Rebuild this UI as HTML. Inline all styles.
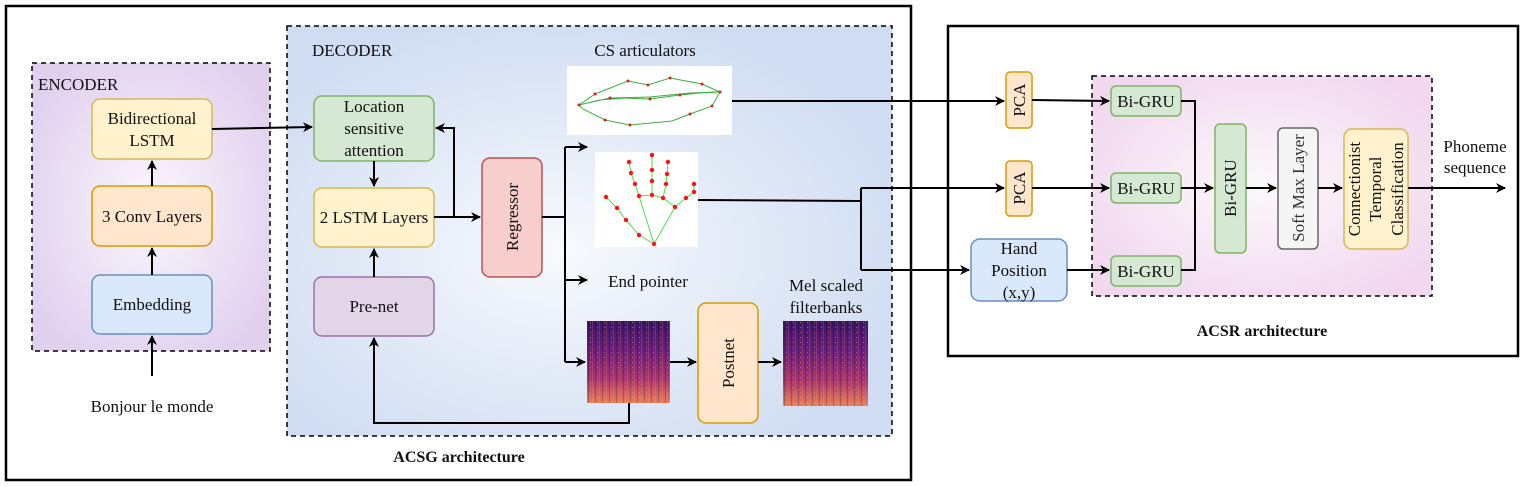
<!DOCTYPE html>
<html><head><meta charset="utf-8"><style>
body{margin:0;background:#fff;}
svg{display:block;}
text{font-family:"Liberation Serif","DejaVu Serif",serif;font-size:17px;fill:#111;}
.b{font-weight:bold;font-size:16px;}
</style></head><body>
<svg width="1525" height="487" viewBox="0 0 1525 487" xmlns="http://www.w3.org/2000/svg">
<defs>
<radialGradient id="gp" cx="50%" cy="50%" r="60%"><stop offset="0" stop-color="#fbf7fd"/><stop offset="1" stop-color="#e0d0ee"/></radialGradient>
<radialGradient id="gb" cx="45%" cy="55%" r="60%"><stop offset="0" stop-color="#f8fafe"/><stop offset="1" stop-color="#cfdcf1"/></radialGradient>
<radialGradient id="gk" cx="50%" cy="50%" r="60%"><stop offset="0" stop-color="#fdf8fc"/><stop offset="1" stop-color="#f1d8ef"/></radialGradient>
<linearGradient id="sp" x1="0" y1="0" x2="0" y2="1"><stop offset="0" stop-color="#3a1465"/><stop offset="0.35" stop-color="#6a1f7a"/><stop offset="0.7" stop-color="#a8346f"/><stop offset="1" stop-color="#e8805a"/></linearGradient>
<pattern id="st" width="7" height="5" patternUnits="userSpaceOnUse"><rect width="1" height="5" fill="#000" opacity="0.2"/><rect x="4" width="1" height="5" fill="#ff9a70" opacity="0.2"/><rect x="2" y="2" width="1" height="1" fill="#ffb070" opacity="0.5"/></pattern>
<marker id="a" markerWidth="10" markerHeight="10" refX="9" refY="5" orient="auto" markerUnits="userSpaceOnUse"><path d="M0,0 L10,5 L0,10 L3,5 Z" fill="#000"/></marker>
</defs>
<rect x="6" y="6" width="905" height="474" fill="none" stroke="#000" stroke-width="2.5"/>
<rect x="32" y="63" width="238" height="288" fill="url(#gp)" stroke="#000" stroke-width="1.5" stroke-dasharray="5,4"/>
<text x="38" y="90">ENCODER</text>
<rect x="287" y="26" width="605" height="410" fill="url(#gb)" stroke="#000" stroke-width="1.5" stroke-dasharray="5,4"/>
<text x="312" y="56">DECODER</text>
<rect x="92" y="99" width="120" height="60" rx="8" fill="#fff2cc" stroke="#d6b656" stroke-width="1.5"/>
<text x="152" y="124" text-anchor="middle">Bidirectional</text><text x="152" y="146" text-anchor="middle">LSTM</text>
<rect x="92" y="186" width="120" height="60" rx="8" fill="#ffe6cc" stroke="#d79b00" stroke-width="1.5"/>
<text x="152" y="222" text-anchor="middle">3 Conv Layers</text>
<rect x="92" y="275" width="120" height="59" rx="8" fill="#dae8fc" stroke="#6c8ebf" stroke-width="1.5"/>
<text x="152" y="310" text-anchor="middle">Embedding</text>
<g stroke="#000" stroke-width="2" fill="none">
<line x1="152" y1="376" x2="152" y2="336" marker-end="url(#a)"/>
<line x1="152" y1="275" x2="152" y2="248" marker-end="url(#a)"/>
<line x1="152" y1="186" x2="152" y2="161" marker-end="url(#a)"/>
<line x1="212" y1="129" x2="312" y2="127" marker-end="url(#a)"/>
</g>
<text x="152" y="412" text-anchor="middle">Bonjour le monde</text>
<rect x="314" y="96" width="120" height="65" rx="8" fill="#d5e8d4" stroke="#82b366" stroke-width="1.5"/>
<text x="374" y="112" text-anchor="middle">Location</text><text x="374" y="134" text-anchor="middle">sensitive</text><text x="374" y="156" text-anchor="middle">attention</text>
<rect x="314" y="188" width="120" height="59" rx="8" fill="#fff2cc" stroke="#d6b656" stroke-width="1.5"/>
<text x="374" y="223" text-anchor="middle">2 LSTM Layers</text>
<rect x="314" y="277" width="120" height="59" rx="8" fill="#e1d5e7" stroke="#9673a6" stroke-width="1.5"/>
<text x="374" y="312" text-anchor="middle">Pre-net</text>
<rect x="482" y="158" width="60" height="119" rx="8" fill="#f8cecc" stroke="#b85450" stroke-width="1.5"/>
<text transform="translate(518,217) rotate(-90)" text-anchor="middle">Regressor</text>
<rect x="698" y="303" width="60" height="120" rx="8" fill="#ffe6cc" stroke="#d79b00" stroke-width="1.5"/>
<text transform="translate(734,363) rotate(-90)" text-anchor="middle">Postnet</text>
<rect x="567" y="66" width="165" height="69" fill="#fff"/>
<g fill="none" stroke="#3cb043" stroke-width="1">
<path d="M579,105 L595,94 L628,81 L648,85 L670,78 L702,84 L720,92 L712,106 L690,114 L672,121 L630,125 L605,120 L583,109 Z"/>
<path d="M579,105 L600,100 L625,98 L650,99 L680,95 L700,93 L720,92 M583,104 L610,98 L650,97 L690,93 L718,92"/>
</g>
<g fill="#e02020">
<circle cx="579" cy="105" r="1.5"/><circle cx="595" cy="94" r="1.5"/><circle cx="628" cy="81" r="1.5"/><circle cx="648" cy="85" r="1.5"/><circle cx="670" cy="78" r="1.5"/><circle cx="702" cy="84" r="1.5"/><circle cx="720" cy="92" r="1.5"/><circle cx="712" cy="106" r="1.5"/><circle cx="690" cy="114" r="1.5"/><circle cx="630" cy="125" r="1.5"/><circle cx="605" cy="120" r="1.5"/><circle cx="650" cy="99" r="1.5"/><circle cx="610" cy="98" r="1.5"/><circle cx="680" cy="95" r="1.5"/>
</g>
<rect x="595" y="152" width="103" height="95" fill="#fff"/>
<g fill="none" stroke="#4ce04c" stroke-width="1">
<path d="M654,244 L639,235 L626,220 L617,208 L606,197 M654,244 L639,196 L635,184 L631,173 L629,162 M654,244 L675,207 L686,198 L694,192 L694,184 M639,196 L652,195 L663,198 L675,207 M652,195 L652,181 L652,170 L652,155 M663,198 L666,184 L667,174 L668,162"/>
</g>
<g fill="#ff1010">
<circle cx="654" cy="244" r="2.2"/><circle cx="639" cy="235" r="2.2"/><circle cx="626" cy="220" r="2.2"/><circle cx="617" cy="208" r="2.2"/><circle cx="606" cy="197" r="2.2"/><circle cx="639" cy="196" r="2.2"/><circle cx="635" cy="184" r="2.2"/><circle cx="631" cy="173" r="2.2"/><circle cx="629" cy="162" r="2.2"/><circle cx="675" cy="207" r="2.2"/><circle cx="686" cy="198" r="2.2"/><circle cx="694" cy="192" r="2.2"/><circle cx="694" cy="184" r="2.2"/><circle cx="652" cy="195" r="2.2"/><circle cx="663" cy="198" r="2.2"/><circle cx="652" cy="181" r="2.2"/><circle cx="652" cy="170" r="2.2"/><circle cx="652" cy="155" r="2.2"/><circle cx="666" cy="184" r="2.2"/><circle cx="667" cy="174" r="2.2"/><circle cx="668" cy="162" r="2.2"/>
</g>
<rect x="587" y="321" width="83" height="82" fill="url(#sp)"/><rect x="587" y="321" width="83" height="82" fill="url(#st)"/>
<rect x="783" y="321" width="85" height="85" fill="url(#sp)"/><rect x="783" y="321" width="85" height="85" fill="url(#st)"/>
<text x="645" y="56" text-anchor="middle">CS articulators</text>
<text x="648" y="287" text-anchor="middle">End pointer</text>
<text x="826" y="291" text-anchor="middle">Mel scaled</text><text x="826" y="313" text-anchor="middle">filterbanks</text>
<g stroke="#000" stroke-width="2" fill="none">
<line x1="374" y1="161" x2="374" y2="186" marker-end="url(#a)"/>
<line x1="374" y1="277" x2="374" y2="249" marker-end="url(#a)"/>
<line x1="434" y1="217" x2="480" y2="217" marker-end="url(#a)"/>
<polyline points="454,217 454,128 436,128" marker-end="url(#a)"/>
<line x1="542" y1="217" x2="565" y2="217"/>
<line x1="565" y1="147" x2="565" y2="362"/>
<line x1="565" y1="147" x2="587" y2="147" marker-end="url(#a)"/>
<line x1="565" y1="280" x2="587" y2="280" marker-end="url(#a)"/>
<line x1="565" y1="362" x2="585" y2="362" marker-end="url(#a)"/>
<line x1="670" y1="362" x2="696" y2="362" marker-end="url(#a)"/>
<line x1="758" y1="362" x2="781" y2="362" marker-end="url(#a)"/>
<polyline points="629,403 629,423 374,423 374,338" marker-end="url(#a)"/>
<line x1="732" y1="101" x2="1004" y2="101" marker-end="url(#a)"/>
<polyline points="698,200 861,201"/>
<polyline points="861,188 861,270"/>
<line x1="861" y1="188" x2="1004" y2="188" marker-end="url(#a)"/>
<line x1="861" y1="270" x2="969" y2="270" marker-end="url(#a)"/>
</g>
<text x="459" y="462" text-anchor="middle" class="b">ACSG architecture</text>
<rect x="948" y="26" width="570" height="330" fill="none" stroke="#000" stroke-width="2.5"/>
<rect x="1092" y="76" width="340" height="220" fill="url(#gk)" stroke="#000" stroke-width="1.5" stroke-dasharray="5,4"/>
<rect x="1006" y="72" width="26" height="56" rx="4" fill="#ffe6cc" stroke="#d79b00" stroke-width="1.5"/>
<text transform="translate(1025,100) rotate(-90)" text-anchor="middle">PCA</text>
<rect x="1006" y="161" width="26" height="55" rx="4" fill="#ffe6cc" stroke="#d79b00" stroke-width="1.5"/>
<text transform="translate(1025,188) rotate(-90)" text-anchor="middle">PCA</text>
<rect x="971" y="239" width="96" height="62" rx="9" fill="#dae8fc" stroke="#6c8ebf" stroke-width="1.5"/>
<text x="1019" y="254" text-anchor="middle">Hand</text><text x="1019" y="276" text-anchor="middle">Position</text><text x="1019" y="298" text-anchor="middle">(x,y)</text>
<rect x="1111" y="86" width="70" height="30" rx="5" fill="#d5e8d4" stroke="#82b366" stroke-width="1.5"/>
<text x="1146" y="107" text-anchor="middle">Bi-GRU</text>
<rect x="1111" y="173" width="70" height="30" rx="5" fill="#d5e8d4" stroke="#82b366" stroke-width="1.5"/>
<text x="1146" y="194" text-anchor="middle">Bi-GRU</text>
<rect x="1111" y="256" width="70" height="30" rx="5" fill="#d5e8d4" stroke="#82b366" stroke-width="1.5"/>
<text x="1146" y="277" text-anchor="middle">Bi-GRU</text>
<rect x="1215" y="124" width="31" height="129" rx="5" fill="#d5e8d4" stroke="#82b366" stroke-width="1.5"/>
<text transform="translate(1236,188) rotate(-90)" text-anchor="middle">Bi-GRU</text>
<rect x="1278" y="128" width="40" height="121" rx="5" fill="#f5f5f5" stroke="#666" stroke-width="1.5"/>
<text transform="translate(1304,188) rotate(-90)" text-anchor="middle" style="fill:#333">Soft Max Layer</text>
<rect x="1344" y="129" width="64" height="120" rx="8" fill="#fff2cc" stroke="#d6b656" stroke-width="1.5"/>
<text transform="translate(1360,189) rotate(-90)" text-anchor="middle">Connectionist</text>
<text transform="translate(1381,189) rotate(-90)" text-anchor="middle">Temporal</text>
<text transform="translate(1403,189) rotate(-90)" text-anchor="middle">Classification</text>
<g stroke="#000" stroke-width="2" fill="none">
<line x1="1032" y1="100" x2="1109" y2="101" marker-end="url(#a)"/>
<line x1="1032" y1="188" x2="1109" y2="188" marker-end="url(#a)"/>
<line x1="1067" y1="270" x2="1109" y2="270" marker-end="url(#a)"/>
<polyline points="1181,101 1195,101 1195,270 1181,270"/>
<line x1="1181" y1="188" x2="1213" y2="188" marker-end="url(#a)"/>
<line x1="1246" y1="188" x2="1276" y2="188" marker-end="url(#a)"/>
<line x1="1318" y1="188" x2="1342" y2="188" marker-end="url(#a)"/>
<line x1="1408" y1="188" x2="1505" y2="188" marker-end="url(#a)"/>
</g>
<text x="1475" y="152" text-anchor="middle">Phoneme</text><text x="1475" y="173" text-anchor="middle">sequence</text>
<text x="1262" y="336" text-anchor="middle" class="b">ACSR architecture</text>
</svg>
</body></html>
